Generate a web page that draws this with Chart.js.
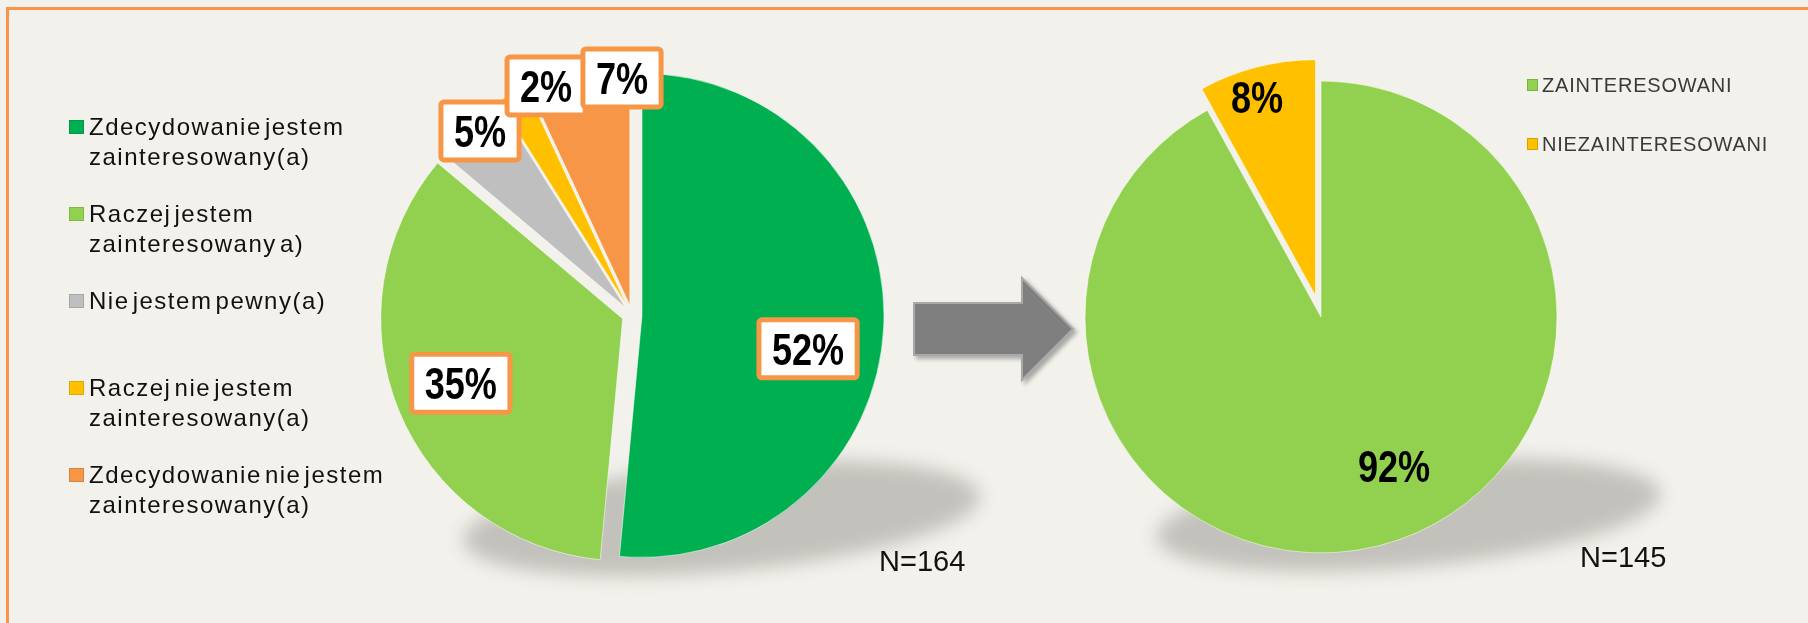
<!DOCTYPE html>
<html lang="pl">
<head>
<meta charset="utf-8">
<title>Zainteresowanie</title>
<script src="https://cdn.jsdelivr.net/npm/chart.js@4.4.1/dist/chart.umd.min.js"></script>
<style>
  html, body { margin: 0; padding: 0; }
  body {
    width: 1808px; height: 623px; position: relative; overflow: hidden;
    background: #F2F1EB;
    font-family: "Liberation Sans", Arial, sans-serif;
  }
  .frame {
    position: absolute; left: 6px; top: 7px; width: 1830px; height: 660px;
    border: 3px solid #F79646; box-sizing: border-box;
  }
  canvas.pie { position: absolute; left: 0; top: 0; }

  .legend { position: absolute; margin: 0; padding: 0; list-style: none; }
  .legend li { position: relative; }
  .legend .sw { position: absolute; left: 0; box-sizing: border-box; }

  #legend-left { left: 69px; top: 112px; }
  #legend-left li {
    height: 87px; padding-left: 20px;
    font-size: 24px; line-height: 30px; letter-spacing: 1.5px; word-spacing: -5px;
    color: #111;
  }
  #legend-left .sw { top: 8px; width: 15px; height: 14px; border: 1px solid rgba(0,0,0,0.12); }

  #legend-right { left: 1527px; top: 73px; }
  #legend-right li {
    height: 59.4px; padding-left: 15px;
    font-size: 20px; line-height: 24px; letter-spacing: 0.8px;
    color: #3a3a3a;
  }
  #legend-right .sw { top: 6px; width: 11px; height: 12px; border: 1px solid rgba(0,0,0,0.15); }

  .count { position: absolute; font-size: 29px; line-height: 29px; color: #111; }
  #n-left  { left: 879px;  top: 547px; }
  #n-right { left: 1580px; top: 543px; }

  #arrow { position: absolute; left: 900px; top: 265px; filter: drop-shadow(3px 3px 2px rgba(0,0,0,0.3)); }
</style>
</head>
<body>
<div class="frame"></div>

<canvas id="pieLeft"  class="pie" width="1808" height="623"></canvas>
<canvas id="pieRight" class="pie" width="1808" height="623"></canvas>

<svg id="arrow" width="190" height="140" viewBox="0 0 190 140">
  <polygon points="14,38 122,38 122,13 173,64 122,115 122,90 14,90"
           fill="#7F7F7F" stroke="#A9A9A9" stroke-width="2" stroke-linejoin="miter"/>
</svg>

<ul id="legend-left" class="legend"></ul>
<ul id="legend-right" class="legend"></ul>
<div id="n-left" class="count"></div>
<div id="n-right" class="count"></div>

<script>
// ---- survey answers (all respondents) ----
const answerLabels = [
  ['Zdecydowanie jestem', 'zainteresowany(a)'],
  ['Raczej jestem', 'zainteresowany a)'],
  ['Nie jestem pewny(a)'],
  ['Raczej nie jestem', 'zainteresowany(a)'],
  ['Zdecydowanie nie jestem', 'zainteresowany(a)'],
];
const answerValues = [52, 35, 5, 2, 7];
const answerColors = ['#00B050', '#92D050', '#BFBFBF', '#FFC000', '#F79646'];
const answerCount  = 164;

// ---- grouped answers ----
const groupLabels = ['ZAINTERESOWANI', 'NIEZAINTERESOWANI'];
const groupValues = [92, 8];
const groupColors = ['#92D050', '#FFC000'];
const groupCount  = 145;

// slice explode distance (px) and label placement [radius fraction, turn in degrees]
const answerExplode  = [10, 10, 10, 10, 10];
const answerLabelPos = [[0.70, 8.7], [0.72, 0.6], [0.945, 1.5], [0.97, 8.3], [0.94, 10.5]];
const groupExplode   = [0, 22];
const groupLabelPos  = [[0.703, -11.7], [0.877, -2]];

const NARROW = 0.82;   // condensed look of the percent labels

function piePlugin(explode, labelPos, boxed) {
  return {
    id: 'explodedPie',
    beforeDatasetsDraw(chart) {
      // soft ground shadow, slightly tilted
      const arc = chart.getDatasetMeta(0).data[0];
      if (!arc) return;
      const r = arc.outerRadius;
      const ctx = chart.ctx;
      ctx.save();
      ctx.filter = 'blur(9px)';
      ctx.fillStyle = '#C2C1BB';
      ctx.beginPath();
      ctx.ellipse(arc.x + r * 0.37, arc.y + r * 0.84, r * 1.07, r * 0.22, -5 * Math.PI / 180, 0, Math.PI * 2);
      ctx.fill();
      ctx.restore();
    },
    beforeDatasetDraw(chart, args) {
      const ctx = chart.ctx;
      args.meta.data.forEach((arc, i) => {
        const mid = (arc.startAngle + arc.endAngle) / 2;
        const d = explode[i] || 0;
        ctx.save();
        ctx.translate(Math.cos(mid) * d, Math.sin(mid) * d);
        arc.draw(ctx);
        ctx.restore();
      });
      return false;
    },
    afterDatasetsDraw(chart) {
      const ctx    = chart.ctx;
      const values = chart.data.datasets[0].data;
      ctx.save();
      ctx.font = 'bold 44px "Liberation Sans", Arial, sans-serif';
      ctx.textAlign = 'center';
      ctx.textBaseline = 'alphabetic';
      chart.getDatasetMeta(0).data.forEach((arc, i) => {
        const mid = (arc.startAngle + arc.endAngle) / 2;
        const d = explode[i] || 0;
        const [k, turn] = labelPos[i];
        const ang = mid + turn * Math.PI / 180;
        const x = arc.x + Math.cos(mid) * d + Math.cos(ang) * arc.outerRadius * k;
        const y = arc.y + Math.sin(mid) * d + Math.sin(ang) * arc.outerRadius * k;
        const text = values[i] + '%';
        const w = ctx.measureText(text).width * NARROW;

        if (boxed) {
          const bw = w + 31, bh = 63;
          ctx.fillStyle = '#FFFFFF';
          ctx.strokeStyle = '#F79646';
          ctx.lineWidth = 5;
          ctx.beginPath();
          ctx.roundRect(x - bw / 2 + 2.5, y - bh / 2 + 2.5, bw - 5, bh - 5, 3);
          ctx.fill();
          ctx.stroke();
        }
        ctx.save();
        ctx.translate(x, y + 15.75);
        ctx.scale(NARROW, 1);
        ctx.fillStyle = '#000';
        ctx.fillText(text, 0, 0);
        ctx.restore();
      });
      ctx.restore();
    }
  };
}

function makePie(id, labels, values, colors, radius, padding, explode, labelPos, boxed) {
  return new Chart(document.getElementById(id), {
    type: 'pie',
    data: {
      labels: labels,
      datasets: [{
        data: values,
        backgroundColor: colors,
        borderColor: 'rgba(255,255,255,0.55)',
        borderWidth: 1,
        hoverOffset: 0,
        radius: radius,
        clip: false,
      }]
    },
    options: {
      responsive: false,
      animation: false,
      events: [],
      layout: { padding: padding },
      plugins: { legend: { display: false }, tooltip: { enabled: false } }
    },
    plugins: [piePlugin(explode, labelPos, boxed)]
  });
}

function fillLegend(id, labels, colors) {
  document.getElementById(id).innerHTML = labels.map((l, i) => `
    <li><span class="sw" style="background:${colors[i]}"></span>${[].concat(l).join('<br>')}</li>`).join('');
}

makePie('pieLeft',  answerLabels, answerValues, answerColors, 242,
        { left: 0, right: 544, top: 7, bottom: 0 }, answerExplode, answerLabelPos, true);
makePie('pieRight', groupLabels, groupValues, groupColors, 236,
        { left: 834, right: 0, top: 11, bottom: 0 }, groupExplode, groupLabelPos, false);

fillLegend('legend-left', answerLabels, answerColors);
fillLegend('legend-right', groupLabels, groupColors);
document.getElementById('n-left').textContent  = 'N=' + answerCount;
document.getElementById('n-right').textContent = 'N=' + groupCount;
</script>
</body>
</html>
